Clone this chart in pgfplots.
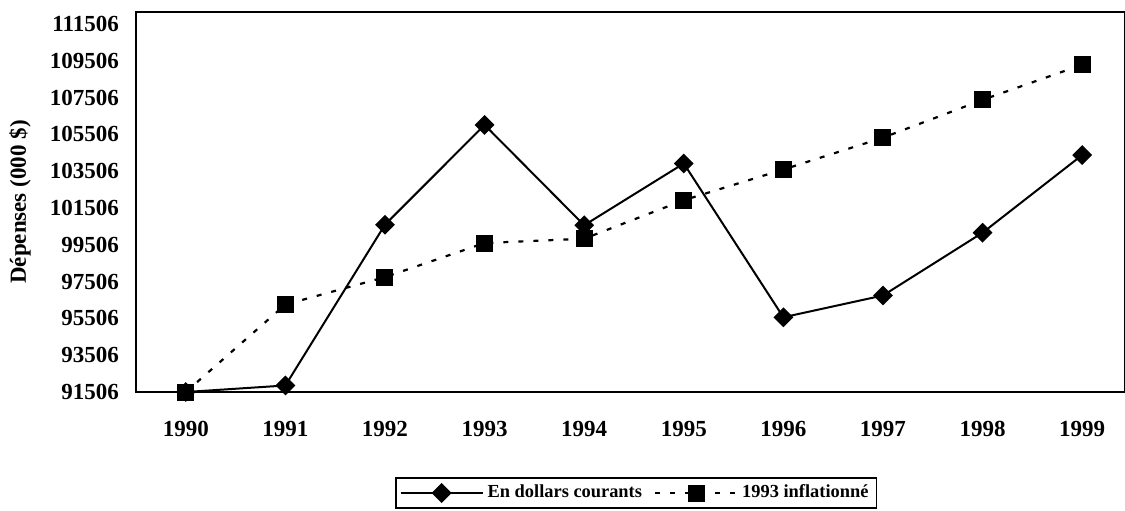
\documentclass[border=0pt]{standalone}
\usepackage{fontspec}
\setmainfont{Liberation Serif}
\usepackage{pgfplots}
\pgfplotsset{compat=1.18}
\usetikzlibrary{calc}
\begin{document}
\begin{tikzpicture}
\begin{axis}[
  scale only axis,
  width=494.5pt, height=190pt,
  xmin=-0.5, xmax=9.43,
  ymin=91506, ymax=112150,
  scaled y ticks=false,
  xtick={0,1,2,3,4,5,6,7,8,9},
  xticklabels={1990,1991,1992,1993,1994,1995,1996,1997,1998,1999},
  ytick={91506,93506,95506,97506,99506,101506,103506,105506,107506,109506,111506},
  yticklabels={91506,93506,95506,97506,99506,101506,103506,105506,107506,109506,111506},
  major tick length=0pt,
  /pgf/number format/assume math mode=true,
  tick label style={font=\bfseries\fontsize{11.5}{13}\selectfont},
  xticklabel style={yshift=-11pt},
  yticklabel style={xshift=-5pt},
  ylabel={Dépenses (000 \$)},
  ylabel style={font=\bfseries\fontsize{11.5}{13}\selectfont, at={(axis description cs:-0.1173,0.5)}, anchor=center},
  axis line style={line width=1pt},
  legend columns=2,
  legend style={at={(axis description cs:0.5056,0)}, anchor=center, yshift=-50.5pt,
    font=\bfseries\fontsize{9.2}{10}\selectfont, draw=black, line width=0.9pt,
    inner xsep=2pt, inner ysep=1.5pt,
    /tikz/every even column/.append style={column sep=4pt}},
  legend cell align=left,
  legend image code/.code={\draw[mark repeat=2,mark phase=2] plot coordinates {(0pt,0pt) (20.5pt,0pt) (41pt,0pt)};},
]
\addplot[black, line width=1pt, mark=square*, mark size=3pt, mark options={solid, rotate=45, fill=black}]
  coordinates {(0,91506) (1,91860) (2,100597) (3,106014) (4,100564) (5,103921) (6,95566) (7,96749) (8,100161) (9,104379)};
\addlegendentry{En dollars courants}
\addplot[black, line width=1.1pt, dash pattern=on 2.5pt off 5pt, mark=square*, mark size=3.7pt, mark options={solid, fill=black}]
  coordinates {(0,91506) (1,96258) (2,97746) (3,99599) (4,99834) (5,101926) (6,103594) (7,105322) (8,107376) (9,109284)};
\addlegendentry{1993 inflationné}
\end{axis}
\pgfresetboundingbox
\path[use as bounding box] ($(current axis.south west)+(-68pt,-59pt)$) rectangle ($(current axis.north east)+(0pt,6pt)$);
\end{tikzpicture}
\end{document}
